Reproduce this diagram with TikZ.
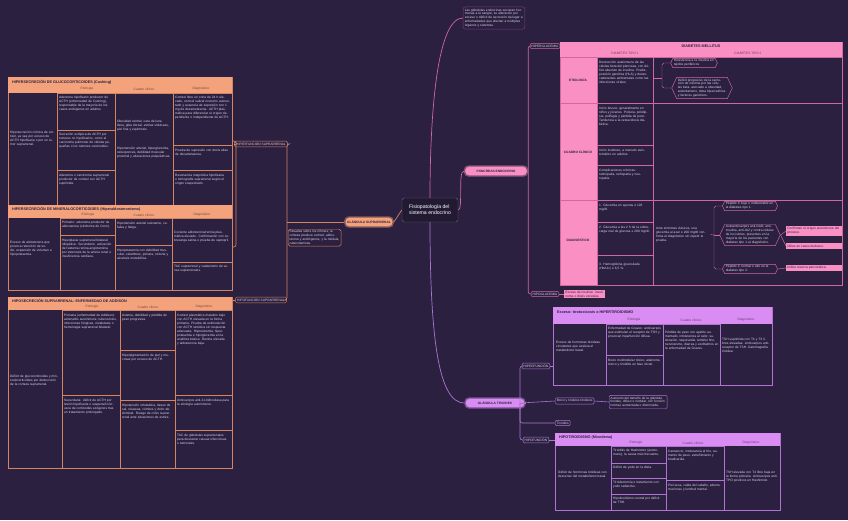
\documentclass[tikz,border=0pt]{standalone}
\usepackage{fontspec}
\setmainfont{Liberation Sans}
\usetikzlibrary{positioning,shapes.symbols,calc}

\definecolor{bgc}{HTML}{2B2040}
\definecolor{ora}{HTML}{F4A27C}
\definecolor{oral}{HTML}{D4845F}
\definecolor{pnk}{HTML}{F98FC3}
\definecolor{pnkl}{HTML}{D0689F}
\definecolor{lil}{HTML}{D98CF2}
\definecolor{lill}{HTML}{B073D2}
\definecolor{txc}{HTML}{DCD6E8}
\definecolor{ntc}{HTML}{7A3E70}

\newcommand\tfont{\fontsize{2.75}{3.35}\selectfont}
\newcommand\hfont{\fontsize{3.2}{3.8}\selectfont}

\begin{document}
\begin{tikzpicture}[x=0.03cm,y=-0.03cm,
 every node/.style={font=\tfont,text=txc,inner sep=0.8pt},
 cell/.style={anchor=north west,text width=#1,align=left},
 frame/.style={draw=#1,line width=0.5pt,anchor=north west,inner sep=0pt,outer sep=0pt},
 ttl/.style={anchor=west,font=\hfont\bfseries,text=bgc},
 colh/.style={font=\tfont,text=#1!45!black},
 oc/.style={draw=oral,line width=0.45pt},
 pc/.style={draw=pnkl,line width=0.45pt},
 lc/.style={draw=lill,line width=0.45pt},
 pill/.style={fill=#1,draw=#1!45!bgc,line width=1.2pt,rounded corners=3.5pt,text=bgc,
   font=\tfont\bfseries,minimum height=0.3cm,inner xsep=2pt},
 lab/.style={draw=#1,rounded corners=1pt,font=\tfont,text=txc,inner sep=1.3pt,align=center},
 hexa/.style={draw=pnkl,shape=signal,signal to=west and east,signal pointer angle=130,
   text width=#1,align=left,inner sep=1pt},
 pbox/.style={fill=pnk,text=bgc,text width=#1,align=left,inner sep=1pt},
 cen/.style={draw=gray!70!bgc,fill=bgc!80!black,rounded corners=1.5pt,text=white,
   font=\fontsize{4.4}{5.2}\selectfont,align=left,minimum width=1.68cm,minimum height=0.72cm,inner sep=2pt}]
\fill[bgc] (0,0) rectangle (848,520);
\useasboundingbox (0,0) rectangle (848,520);

% centre and main branches
\node[cen] (cen) at (430,210) {Fisiopatología del\\sistema endocrino};
\node[draw=ntc,rounded corners=2pt,text width=1.75cm,align=left,inner sep=1.5pt] (nt) at (494,18)
 {Las glándulas endocrinas secretan hormonas a la sangre; su alteración por exceso o déficit de secreción da lugar a enfermedades que afectan a múltiples órganos y sistemas.};
\node[pill=pnk,minimum width=1.89cm] (pp) at (496,171) {PÁNCREAS ENDOCRINO};
\node[pill=lil,minimum width=1.8cm] (tp) at (495,403) {GLÁNDULA TIROIDES};
\node[pill=ora,minimum width=1.44cm] (op) at (369,222) {GLÁNDULA SUPRARRENAL};

\draw[pnkl,line width=0.6pt] (cen.north) .. controls +(0,-90) and +(-25,0) .. (nt.west);
\draw[pnkl,line width=0.6pt] (cen.east) .. controls +(5,0) and +(-6,0) .. (pp.west);
\draw[lill,line width=0.6pt] (cen.south) .. controls +(0,120) and +(-25,0) .. (tp.west);
\draw[oral,line width=0.6pt] (cen.west) -- (op.east);

% ---------------- suprarrenal (left)
\node[draw=oral,rounded corners=1.5pt,text width=1.5cm,align=left,inner sep=1.2pt,anchor=north west] (onote) at (288,229)
 {Situadas sobre los riñones; la corteza produce cortisol, aldosterona y andrógenos, y la médula, catecolaminas.};
\node[lab=oral,minimum width=1.3cm] (oh1) at (261,144) {HIPERFUNCIÓN SUPRARRENAL};
\node[lab=oral,minimum width=1.3cm] (oh2) at (261,300) {HIPOFUNCIÓN SUPRARRENAL};
\coordinate (ojn) at (287,222);
\draw[oral,line width=0.5pt] (op.west) -- (ojn);
\draw[oral,line width=0.5pt,rounded corners=2pt] (oh1.east) -| (ojn) |- (oh2.east);

% table 1: Cushing
\node[frame=oral,minimum width=6.72cm,minimum height=3.84cm] (o1tab) at (8,77) {};
\fill[ora] (8,77) rectangle (232,93);
\node[ttl] (o1t) at (11,82) {HIPERSECRECIÓN DE GLUCOCORTICOIDES (Cushing)};
\node[colh=ora] (o1c1) at (87,89) {Etiología};
\node[colh=ora] (o1c2) at (144,89) {Cuadro clínico};
\node[colh=ora] (o1c3) at (201,89) {Diagnóstico};
\draw[oc] (57,93) rectangle (115,130) (57,130) rectangle (115,170) (57,170) rectangle (115,205);
\draw[oc] (115,93) rectangle (173,205);
\draw[oc] (173,93) rectangle (232,145) (173,145) rectangle (232,170) (173,170) rectangle (232,205);
\node[cell=1.35cm] (o1a) at (9,130) {Hipersecreción crónica de cortisol, ya sea por exceso de ACTH hipofisaria o por un tumor suprarrenal.};
\node[cell=1.6cm] (o1b1) at (58,95) {Adenoma hipofisario productor de ACTH (enfermedad de Cushing), responsable de la mayoría de los casos endógenos en adultos.};
\node[cell=1.6cm] (o1b2) at (58,132) {Secreción ectópica de ACTH por tumores no hipofisarios, como el carcinoma pulmonar de células pequeñas o los tumores carcinoides.};
\node[cell=1.6cm] (o1b3) at (58,173) {Adenoma o carcinoma suprarrenal productor de cortisol con ACTH suprimida.};
\node[cell=1.6cm] (o1c) at (116,119) {Obesidad central, cara de luna llena, giba dorsal, estrías violáceas, piel fina y equimosis.};
\node[cell=1.6cm] (o1d) at (116,146) {Hipertensión arterial, hiperglucemia, osteoporosis, debilidad muscular proximal y alteraciones psiquiátricas.};
\node[cell=1.65cm] (o1e1) at (174,95) {Cortisol libre en orina de 24 h elevado, cortisol salival nocturno aumentado y ausencia de supresión con 1 mg de dexametasona. ACTH plasmática para diferenciar el origen dependiente o independiente de ACTH.};
\node[cell=1.65cm] (o1e2) at (174,148) {Prueba de supresión con dosis altas de dexametasona.};
\node[cell=1.65cm] (o1e3) at (174,173) {Resonancia magnética hipofisaria o tomografía suprarrenal según el origen sospechado.};

% table 2: hiperaldosteronismo
\node[frame=oral,minimum width=6.72cm,minimum height=2.55cm] (o2tab) at (8,205) {};
\fill[ora] (8,205) rectangle (232,218);
\node[ttl] (o2t) at (11,209) {HIPERSECRECIÓN DE MINERALOCORTICOIDES (Hiperaldosteronismo)};
\node[colh=ora] (o2c1) at (88,215) {Etiología};
\node[colh=ora] (o2c2) at (144,215) {Cuadro clínico};
\node[colh=ora] (o2c3) at (202,215) {Diagnóstico};
\draw[oc] (60,218) rectangle (115,235) (60,235) rectangle (115,290);
\draw[oc] (115,218) rectangle (172,245) (115,245) rectangle (172,290);
\draw[oc] (172,218) rectangle (232,262) (172,262) rectangle (232,290);
\node[cell=1.45cm] (o2a) at (9,240) {Exceso de aldosterona que provoca retención de sodio, expansión de volumen e hipopotasemia.};
\node[cell=1.55cm] (o2b1) at (61,220) {Primario: adenoma productor de aldosterona (síndrome de Conn).};
\node[cell=1.55cm] (o2b2) at (61,238) {Hiperplasia suprarrenal bilateral idiopática. Secundario: activación del sistema renina-angiotensina por estenosis de la arteria renal o insuficiencia cardiaca.};
\node[cell=1.6cm] (o2c) at (116,221) {Hipertensión arterial resistente, cefalea y fatiga.};
\node[cell=1.6cm] (o2d) at (116,248) {Hipopotasemia con debilidad muscular, calambres, poliuria, nicturia y alcalosis metabólica.};
\node[cell=1.7cm] (o2e1) at (173,230) {Cociente aldosterona/renina plasmática elevado. Confirmación con sobrecarga salina o prueba de captopril.};
\node[cell=1.7cm] (o2e2) at (173,264) {TAC suprarrenal y cateterismo de venas suprarrenales.};

% table 3: Addison
\node[frame=oral,minimum width=6.72cm,minimum height=5.13cm] (o3tab) at (8,297) {};
\fill[ora] (8,297) rectangle (232,310);
\node[ttl] (o3t) at (11,301) {HIPOSECRECIÓN SUPRARRENAL: ENFERMEDAD DE ADDISON};
\node[colh=ora] (o3c1) at (92,307) {Etiología};
\node[colh=ora] (o3c2) at (148,307) {Cuadro clínico};
\node[colh=ora] (o3c3) at (204,307) {Diagnóstico};
\draw[oc] (62,310) rectangle (120,395) (62,395) rectangle (120,468);
\draw[oc] (120,310) rectangle (175,350) (120,350) rectangle (175,400) (120,400) rectangle (175,468);
\draw[oc] (175,310) rectangle (232,395) (175,395) rectangle (232,430) (175,430) rectangle (232,468);
\node[cell=1.5cm] (o3a) at (9,374) {Déficit de glucocorticoides y mineralocorticoides por destrucción de la corteza suprarrenal.};
\node[cell=1.6cm] (o3b1) at (63,313) {Primaria (enfermedad de Addison): adrenalitis autoinmune, tuberculosis, infecciones fúngicas, metástasis o hemorragia suprarrenal bilateral.};
\node[cell=1.6cm] (o3b2) at (63,398) {Secundaria: déficit de ACTH por lesión hipofisaria o suspensión brusca de corticoides exógenos tras un tratamiento prolongado.};
\node[cell=1.55cm] (o3c) at (121,313) {Astenia, debilidad y pérdida de peso progresiva.};
\node[cell=1.55cm] (o3d) at (121,353) {Hiperpigmentación de piel y mucosas por exceso de ACTH.};
\node[cell=1.55cm] (o3e) at (121,403) {Hipotensión ortostática, deseo de sal, náuseas, vómitos y dolor abdominal. Riesgo de crisis suprarrenal ante situaciones de estrés.};
\node[cell=1.6cm] (o3f1) at (176,313) {Cortisol plasmático matutino bajo con ACTH elevada en la forma primaria. Prueba de estimulación con ACTH sintética sin respuesta adecuada. Hiponatremia, hiperpotasemia e hipoglucemia en la analítica básica. Renina elevada y aldosterona baja.};
\node[cell=1.6cm] (o3f2) at (176,398) {Anticuerpos anti-21-hidroxilasa para la etiología autoinmune.};
\node[cell=1.6cm] (o3f3) at (176,433) {TAC de glándulas suprarrenales para descartar causas infecciosas o tumorales.};

\coordinate (obk) at (236,144);
\draw[oral,line width=0.5pt] (oh1.west) -- (obk);
\draw[oral,line width=0.5pt,rounded corners=2pt] (o1tab.east |- 141,141) -| (obk) |- (o2tab.east |- 247,247);
\draw[oral,line width=0.5pt] (oh2.west) -- (oh2.west -| o3tab.east);

% ---------------- páncreas (right top)
\node[lab=pnkl] (ph1) at (545,46) {HIPERGLUCEMIA};
\node[lab=pnkl] (ph2) at (545,294) {HIPOGLUCEMIA};
\node[pbox=1.15cm,anchor=west] (ph3) at (564,294) {Exceso de insulina: insulinoma o dosis excesiva.};
\draw[pnkl,line width=0.5pt,rounded corners=2pt] (ph1.west) -| (pp.east) |- (ph2.west);
\draw[pnkl,line width=0.5pt] (ph2.east) -- (ph3.west);

\node[frame=pnkl,minimum width=8.46cm,minimum height=7.29cm] (ptab) at (560,42) {};
\draw[pnkl,line width=0.5pt] (ph1.east) -- (ph1.east -| ptab.west);
\fill[pnk] (560,42) rectangle (842,57) (560,57) rectangle (597,285);
\node[font=\hfont\bfseries,text=bgc] (pt) at (701,46) {DIABETES MELLITUS};
\node[colh=pnk] (pc1) at (625,53) {DIABETES TIPO 1};
\node[colh=pnk] (pc2) at (748,53) {DIABETES TIPO 2};
\draw[pc] (560,57) rectangle (842,103) (560,103) rectangle (842,200) (560,200) rectangle (842,285);
\draw[pc] (597,57) -- (597,285) (653,57) -- (653,285);
\draw[pc] (597,145) -- (653,145) (597,165) -- (653,165) (597,222) -- (653,222) (597,255) -- (653,255);
\node[text=bgc,font=\tfont\bfseries] (pr1) at (578,80) {ETIOLOGÍA};
\node[text=bgc,font=\tfont\bfseries,align=center] (pr2) at (578,152) {CUADRO CLÍNICO};
\node[text=bgc,font=\tfont\bfseries] (pr3) at (578,240) {DIAGNÓSTICO};
\node[cell=1.55cm] (pa) at (598,60) {Destrucción autoinmune de las células beta del páncreas, con déficit absoluto de insulina. Predisposición genética (HLA) y desencadenantes ambientales como las infecciones virales.};
\node[hexa=1.2cm] (hx1) at (694,63) {Resistencia a la insulina en tejidos periféricos};
\node[hexa=1.45cm] (hx2) at (702,88) {Déficit progresivo de la secreción de insulina por las células beta, asociado a obesidad, sedentarismo, dieta hipercalórica y factores genéticos.};
\coordinate (pbk) at (662,78);
\draw[pnkl,line width=0.4pt] (pbk -| ptab.west) ++(93,0) -- (pbk);
\draw[pnkl,line width=0.4pt,rounded corners=1.5pt] (hx1.west) -| (pbk) |- (hx2.west);
\node[cell=1.55cm] (pb1) at (598,106) {Inicio brusco, generalmente en niños y jóvenes. Poliuria, polidipsia, polifagia y pérdida de peso. Tendencia a la cetoacidosis diabética.};
\node[cell=1.55cm] (pb2) at (598,148) {Inicio insidioso, a menudo asintomático en adultos.};
\node[cell=1.55cm] (pb3) at (598,168) {Complicaciones crónicas: retinopatía, nefropatía y neuropatía.};
\node[cell=1.55cm] (pd1) at (598,203) {1. Glucemia en ayunas ≥ 126 mg/dl.};
\node[cell=1.55cm] (pd2) at (598,225) {2. Glucemia a las 2 h de la sobrecarga oral de glucosa ≥ 200 mg/dl.};
\node[cell=1.55cm] (pd3) at (598,262) {3. Hemoglobina glucosilada (HbA1c) ≥ 6,5 \%.};
\node[cell=1.6cm] (pe) at (655,226) {Ante síntomas clásicos, una glucemia al azar ≥ 200 mg/dl confirma el diagnóstico sin repetir la prueba.};
\node[hexa=1.45cm] (hx3) at (750,206) {Péptido C bajo o indetectable en la diabetes tipo 1.};
\node[hexa=1.45cm] (hx4) at (750,235) {Autoanticuerpos anti-GAD, anti-insulina, anti-IA2 y contra células de los islotes, presentes en la mayoría de los pacientes con diabetes tipo 1 al diagnóstico.};
\node[hexa=1.45cm] (hx5) at (750,269) {Péptido C normal o alto en la diabetes tipo 2.};
\node[pbox=1.6cm,anchor=west] (pf1) at (786,231) {Confirman el origen autoinmune del proceso.};
\node[pbox=1.6cm,anchor=west] (pf2) at (786,246) {Útiles en casos dudosos.};
\node[pbox=1.6cm,anchor=west] (pf3) at (786,268) {Indica reserva pancreática.};
\coordinate (pbk2) at (714,235);
\draw[pnkl,line width=0.4pt] (pe.east) -- (pbk2);
\draw[pnkl,line width=0.4pt,rounded corners=1.5pt] (hx3.west) -| (pbk2) |- (hx5.west);
\draw[pnkl,line width=0.4pt] (pbk2) -- (hx4.west);
\draw[pnkl,line width=0.4pt] (hx4.east) -- (pf1.west);
\draw[pnkl,line width=0.4pt] (hx4.east) -- (pf2.west);
\draw[pnkl,line width=0.4pt] (hx5.east) -- (pf3.west);

% ---------------- tiroides (right bottom)
\node[lab=lill] (th1) at (536,366) {HIPERFUNCIÓN};
\node[lab=lill] (th2) at (536,440) {HIPOFUNCIÓN};
\coordinate (tjn) at (520,403);
\draw[lill,line width=0.5pt] (tp.east) -- (tjn);
\draw[lill,line width=0.5pt,rounded corners=2pt] (th1.west) -| (tjn) |- (th2.west);
\node[lab=lill,anchor=west] (tm1) at (555,401) {Bocio y nódulos tiroideos};
\node[lab=lill,anchor=west] (tm2) at (555,423) {Tiroiditis};
\node[draw=lill,rounded corners=1pt,text width=1.65cm,align=left,anchor=west,inner sep=1.2pt] (tm3) at (609,402)
 {Aumento del tamaño de la glándula tiroides, difuso o nodular, con función normal, aumentada o disminuida.};
\draw[lill,line width=0.5pt] (tjn) -- (tm1.west);
\draw[lill,line width=0.5pt,rounded corners=2pt] (tjn) |- (tm2.west);
\draw[lill,line width=0.5pt] (tm1.east) -- (tm3.west);

\node[frame=lill,minimum width=6.57cm,minimum height=2.34cm] (t1tab) at (553,307) {};
\fill[lil] (553,307) rectangle (772,324);
\node[ttl] (t1t) at (556,312) {Exceso: tirotoxicosis o HIPERTIROIDISMO};
\node[colh=lil] (t1c1) at (634,320) {Etiología};
\node[colh=lil] (t1c2) at (691,320) {Cuadro clínico};
\node[colh=lil] (t1c3) at (746,320) {Diagnóstico};
\draw[lc] (606,324) rectangle (663,355) (606,355) rectangle (663,385) (663,324) rectangle (720,385);
\node[cell=1.45cm] (t1a) at (555,340) {Exceso de hormonas tiroideas circulantes que acelera el metabolismo basal.};
\node[cell=1.6cm] (t1b1) at (607,326) {Enfermedad de Graves: anticuerpos que estimulan el receptor de TSH y provocan hiperfunción difusa.};
\node[cell=1.6cm] (t1b2) at (607,358) {Bocio multinodular tóxico, adenoma tóxico y tiroiditis en fase inicial.};
\node[cell=1.6cm] (t1c) at (664,330) {Pérdida de peso con apetito aumentado, intolerancia al calor, sudoración, taquicardia, temblor fino, nerviosismo, diarrea y exoftalmos en la enfermedad de Graves.};
\node[cell=1.45cm] (t1d) at (721,337) {TSH suprimida con T4 y T3 libres elevadas. Anticuerpos anti-receptor de TSH. Gammagrafía tiroidea.};
\draw[lill,line width=0.5pt] (th1.east) -- (th1.east -| t1tab.west);

\node[frame=lill,minimum width=6.75cm,minimum height=2.31cm] (t2tab) at (555,433) {};
\fill[lil] (555,433) rectangle (780,446);
\node[ttl] (t2t) at (558,438) {HIPOTIROIDISMO (Mixedema)};
\node[colh=lil] (t2c1) at (636,443) {Etiología};
\node[colh=lil] (t2c2) at (693,443) {Cuadro clínico};
\node[colh=lil] (t2c3) at (751,443) {Diagnóstico};
\draw[lc] (611,446) rectangle (666,463) (611,463) rectangle (666,478) (611,478) rectangle (666,494) (611,494) rectangle (666,510);
\draw[lc] (666,446) rectangle (724,480) (666,480) rectangle (724,510);
\node[cell=1.55cm] (t2a) at (557,470) {Déficit de hormonas tiroideas con descenso del metabolismo basal.};
\node[cell=1.5cm] (t2b1) at (612,448) {Tiroiditis de Hashimoto (autoinmune), la causa más frecuente.};
\node[cell=1.5cm] (t2b2) at (612,465) {Déficit de yodo en la dieta.};
\node[cell=1.5cm] (t2b3) at (612,480) {Tiroidectomía o tratamiento con yodo radiactivo.};
\node[cell=1.5cm] (t2b4) at (612,496) {Hipotiroidismo central por déficit de TSH.};
\node[cell=1.6cm] (t2c) at (667,449) {Cansancio, intolerancia al frío, aumento de peso, estreñimiento y bradicardia.};
\node[cell=1.6cm] (t2d) at (667,483) {Piel seca, caída del cabello, edema mucinoso y lentitud mental.};
\node[cell=1.55cm] (t2e) at (725,470) {TSH elevada con T4 libre baja en la forma primaria. Anticuerpos anti-TPO positivos en Hashimoto.};
\draw[lill,line width=0.5pt] (th2.east) -- (th2.east -| t2tab.west);
\end{tikzpicture}
\end{document}
